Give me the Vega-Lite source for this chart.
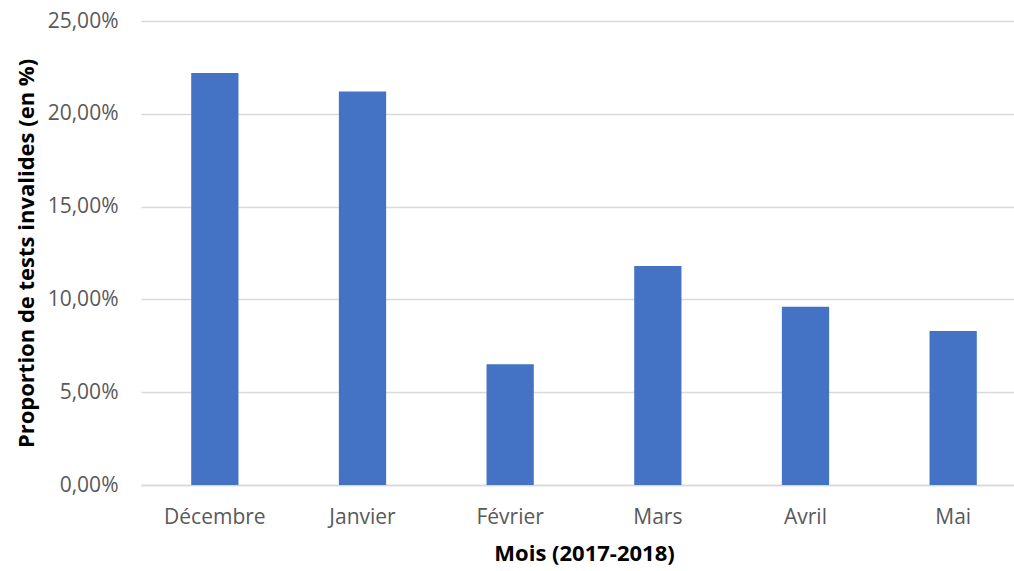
{
  "$schema": "https://vega.github.io/schema/vega-lite/v6.json",
  "autosize": {"type": "none"},
  "padding": {"left": 141, "top": 21, "right": 0, "bottom": 86},
  "width": 873,
  "height": 464,
  "background": "white",
  "data": {"values": [
    {"mois": "Décembre", "proportion": 0.222},
    {"mois": "Janvier", "proportion": 0.212},
    {"mois": "Février", "proportion": 0.065},
    {"mois": "Mars", "proportion": 0.118},
    {"mois": "Avril", "proportion": 0.096},
    {"mois": "Mai", "proportion": 0.083}
  ]},
  "mark": {"type": "bar", "color": "#4472C4"},
  "encoding": {
    "x": {
      "field": "mois", "type": "nominal", "sort": null,
      "scale": {"range": [0, 886], "paddingInner": 0.68, "paddingOuter": 0.34},
      "axis": {
        "title": "Mois (2017-2018)", "labelAngle": 0, "ticks": false, "domain": true,
        "domainColor": "#D9D9D9", "domainWidth": 1.5,
        "labelFont": "Open Sans", "labelFontSize": 21, "labelColor": "#595959",
        "labelBaseline": "alphabetic", "labelPadding": 38,
        "titleFont": "Open Sans", "titleFontSize": 22, "titleFontWeight": "bold", "titleColor": "#000000",
        "titleBaseline": "alphabetic", "titleY": 75, "titleX": 443
      }
    },
    "y": {
      "field": "proportion", "type": "quantitative",
      "scale": {"domain": [0, 0.25]},
      "axis": {
        "title": "Proportion de tests invalides (en %)",
        "values": [0, 0.05, 0.1, 0.15, 0.2, 0.25],
        "labelExpr": "replace(format(datum.value, '.2%'), '.', ',')",
        "ticks": false, "domain": false, "grid": true, "gridColor": "#D9D9D9", "gridWidth": 1.5,
        "labelFont": "Open Sans", "labelFontSize": 21, "labelColor": "#595959", "labelPadding": 23,
        "titleFont": "Open Sans", "titleFontSize": 22, "titleFontWeight": "bold", "titleColor": "#000000",
        "titleBaseline": "alphabetic", "titleX": -108
      }
    }
  },
  "config": {"view": {"stroke": null}}
}
